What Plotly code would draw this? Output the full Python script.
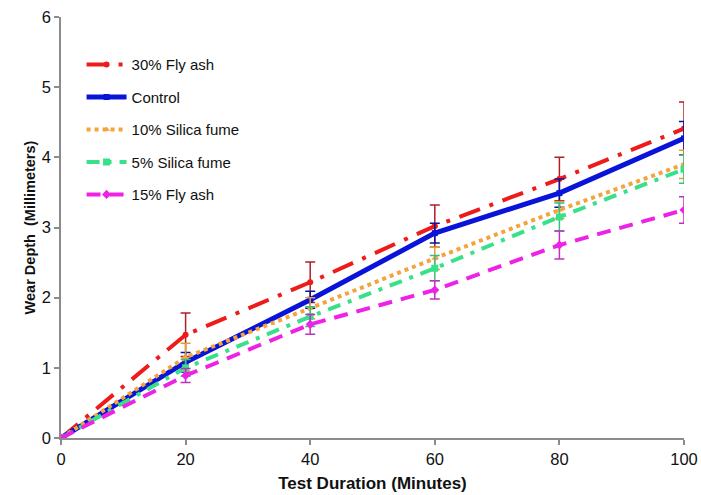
import plotly.graph_objects as go

minutes = [0, 20, 40, 60, 80, 100]

fly30 = [0, 1.47, 2.22, 3.02, 3.69, 4.41]
fly30_err = [0, 0.31, 0.29, 0.30, 0.31, 0.38]

control = [0, 1.08, 1.97, 2.92, 3.49, 4.27]
control_err = [0, 0.14, 0.12, 0.14, 0.20, 0.24]

silica10 = [0, 1.15, 1.85, 2.56, 3.25, 3.90]
silica10_err = [0, 0.20, 0.15, 0.16, 0.12, 0.20]

silica5 = [0, 1.00, 1.73, 2.42, 3.15, 3.83]
silica5_err = [0, 0.12, 0.14, 0.18, 0.20, 0.20]

fly15 = [0, 0.89, 1.62, 2.11, 2.75, 3.25]
fly15_err = [0, 0.10, 0.14, 0.13, 0.20, 0.19]

series = [
    ("30% Fly ash", fly30, fly30_err, "#ee1b1b", "#b02025", "22px,10px,4px,10px", 4, "circle", 6),
    ("Control", control, control_err, "#0a14d8", "#0a14a0", "solid", 5, "square", 6),
    ("10% Silica fume", silica10, silica10_err, "#f5a33c", "#e0a030", "dot", 4, "triangle-up", 6),
    ("5% Silica fume", silica5, silica5_err, "#38e08a", "#38c080", "13px,8px,4px,8px", 4, "square", 7),
    ("15% Fly ash", fly15, fly15_err, "#ee22e6", "#c030c0", "14px,9px", 4, "diamond", 7),
]

fig = go.Figure()
for i, (name, ys, err, col, ecol, dash, w, sym, ms) in enumerate(series):
    fig.add_trace(go.Scatter(
        x=minutes, y=ys, name=name, mode="lines+markers",
        legendgroup=f"g{i}",
        line=dict(color=col, width=w, dash=dash),
        marker=dict(color=col, symbol=sym, size=ms),
        error_y=dict(type="data", array=err, visible=True, color=ecol, thickness=1.5, width=5),
    ))

axis_common = dict(
    showgrid=False, zeroline=False, showline=True, linecolor="#8c8c8c", linewidth=1.5,
    ticks="outside", tickcolor="#8c8c8c", ticklen=5, tickwidth=1.5, automargin=False,
    ticklabeloverflow="allow",
    tickfont=dict(family="Liberation Sans, Arial", size=16.5, color="#111"),
)

fig.update_layout(
    width=701, height=495,
    margin=dict(l=61, r=17, t=17, b=57),
    paper_bgcolor="white", plot_bgcolor="white",
    xaxis=dict(range=[0, 100], tickvals=[0, 20, 40, 60, 80, 100],
               title=dict(text="<b>Test Duration (Minutes)</b>", standoff=11,
                          font=dict(family="Liberation Sans, Arial", size=17, color="#111")),
               **axis_common),
    yaxis=dict(range=[0, 6], tickvals=[0, 1, 2, 3, 4, 5, 6],
               title=dict(text="<b>Wear Depth  (Millimeters)</b>", standoff=3,
                          font=dict(family="Liberation Sans, Arial", size=14.5, color="#111")),
               **axis_common),
    legend=dict(x=0.033, y=0.926, xanchor="left", yanchor="top",
                font=dict(family="Liberation Sans, Arial", size=15, color="#111"),
                bgcolor="rgba(255,255,255,0)", itemwidth=40, tracegroupgap=10,
                traceorder="grouped"),
    showlegend=True,
)

fig.write_html("out.html", config={"displayModeBar": False},
               post_script="document.body.style.margin='0';document.body.style.overflow='hidden';")
